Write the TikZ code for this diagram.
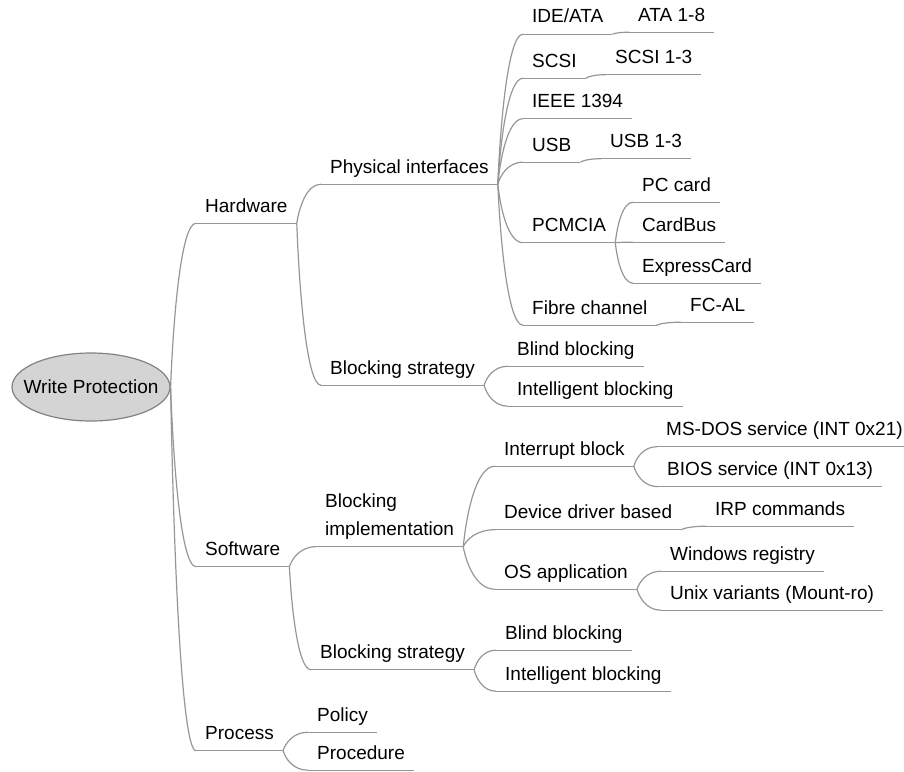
\documentclass[tikz,border=0pt]{standalone}
\usepackage{fontspec}
\setmainfont{Liberation Sans}
\usetikzlibrary{shapes.geometric,calc}
\definecolor{linec}{RGB}{150,150,150}
\definecolor{rootfill}{RGB}{212,212,212}
\definecolor{rootline}{RGB}{130,130,130}
\newcommand\mmfont{\fontsize{19}{28}\selectfont}
\newcommand\mmedge[2]{\draw[lin] let \p1=(#1), \p2=(#2) in (\p1) .. controls ({\x1+0.1*(\x2-\x1)},{\y1+0.4*(\y2-\y1)}) and ({\x1+0.4*(\x2-\x1)},{\y2}) .. (\p2);}
\begin{document}
\begin{tikzpicture}[x=1pt,y=-1pt,
  lin/.style={draw=linec, line width=1.2pt},
  topic/.style={anchor=base west, xshift=-9pt, inner xsep=9pt, inner ysep=11pt, text height=14pt, text depth=0pt, font=\mmfont},
  rootnode/.style={ellipse, draw=rootline, line width=1.2pt, fill=rootfill, minimum width=158pt, minimum height=68pt, inner xsep=-14pt, inner ysep=2pt, font=\mmfont}]
\useasboundingbox (0,0) rectangle (904,771);
\node[rootnode] (root) at (91,387) {Write Protection};
% level 1
\node[topic] (hw) at (205,212) {Hardware};
\node[topic] (sw) at (205,555.5) {Software};
\node[topic] (pr) at (205,739.5) {Process};
% level 2
\node[topic] (phys) at (330,173) {Physical interfaces};
\node[topic] (hbs) at (330,374) {Blocking strategy};
\node[topic, align=left] (bimp) at (325,535.5) {Blocking\\implementation};
\node[topic] (sbs) at (320,658.5) {Blocking strategy};
\node[topic] (pol) at (317,721) {Policy};
\node[topic] (proc) at (317,759) {Procedure};
% level 3 physical
\node[topic] (ide) at (532,23) {IDE/ATA};
\node[topic] (scsi) at (532,67) {SCSI};
\node[topic] (ieee) at (532,107.5) {IEEE 1394};
\node[topic] (usb) at (532,151) {USB};
\node[topic] (pcm) at (532,231.5) {PCMCIA};
\node[topic] (fib) at (532,314) {Fibre channel};
% level 4 physical
\node[topic] (ata) at (638,21) {ATA 1-8};
\node[topic] (scsit) at (615,63.5) {SCSI 1-3};
\node[topic] (usbt) at (610,147.5) {USB 1-3};
\node[topic] (pcc) at (642,191) {PC card};
\node[topic] (cbus) at (642,231) {CardBus};
\node[topic] (exc) at (642,272) {ExpressCard};
\node[topic] (fcal) at (690,311) {FC-AL};
% hardware blocking strategy
\node[topic] (hbb) at (517,355) {Blind blocking};
\node[topic] (hib) at (517,395) {Intelligent blocking};
% blocking implementation
\node[topic] (intb) at (504,455) {Interrupt block};
\node[topic] (ddb) at (504,518.5) {Device driver based};
\node[topic] (osa) at (504,578) {OS application};
\node[topic] (msdos) at (666,435.5) {MS-DOS service (INT 0x21)};
\node[topic] (bios) at (667,475.5) {BIOS service (INT 0x13)};
\node[topic] (irp) at (715,515) {IRP commands};
\node[topic] (winreg) at (670,560) {Windows registry};
\node[topic] (unix) at (670,599) {Unix variants (Mount-ro)};
% software blocking strategy
\node[topic] (sbb) at (505,639) {Blind blocking};
\node[topic] (sib) at (505,680) {Intelligent blocking};
% underlines
\foreach \n in {hw,sw,pr,phys,hbs,bimp,sbs,pol,proc,ide,scsi,ieee,usb,pcm,fib,ata,scsit,usbt,pcc,cbus,exc,fcal,hbb,hib,intb,ddb,osa,msdos,bios,irp,winreg,unix,sbb,sib}
  \draw[lin] (\n.south west) -- (\n.south east);
% connectors
\mmedge{root.east}{hw.south west}
\mmedge{root.east}{sw.south west}
\mmedge{root.east}{pr.south west}
\mmedge{hw.south east}{phys.south west}
\mmedge{hw.south east}{hbs.south west}
\mmedge{sw.south east}{bimp.south west}
\mmedge{sw.south east}{sbs.south west}
\mmedge{pr.south east}{pol.south west}
\mmedge{pr.south east}{proc.south west}
\foreach \c in {ide,scsi,ieee,usb,pcm,fib} {\mmedge{phys.south east}{\c.south west}}
\mmedge{ide.south east}{ata.south west}
\mmedge{scsi.south east}{scsit.south west}
\mmedge{usb.south east}{usbt.south west}
\foreach \c in {pcc,cbus,exc} {\mmedge{pcm.south east}{\c.south west}}
\mmedge{fib.south east}{fcal.south west}
\mmedge{hbs.south east}{hbb.south west}
\mmedge{hbs.south east}{hib.south west}
\foreach \c in {intb,ddb,osa} {\mmedge{bimp.south east}{\c.south west}}
\mmedge{intb.south east}{msdos.south west}
\mmedge{intb.south east}{bios.south west}
\mmedge{ddb.south east}{irp.south west}
\mmedge{osa.south east}{winreg.south west}
\mmedge{osa.south east}{unix.south west}
\mmedge{sbs.south east}{sbb.south west}
\mmedge{sbs.south east}{sib.south west}
\end{tikzpicture}
\end{document}
